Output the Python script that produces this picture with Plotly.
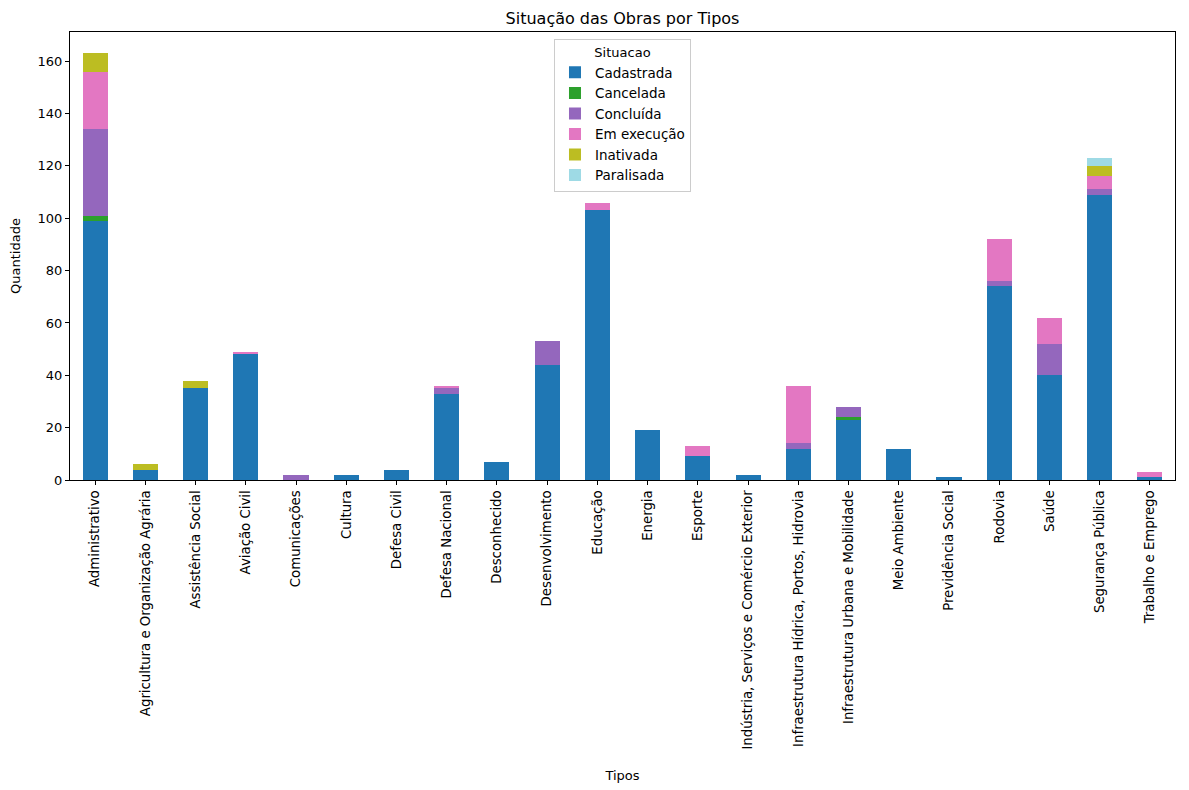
import plotly.graph_objects as go

tipos = ["Administrativo", "Agricultura e Organização Agrária", "Assistência Social", "Aviação Civil",
         "Comunicações", "Cultura", "Defesa Civil", "Defesa Nacional", "Desconhecido", "Desenvolvimento",
         "Educação", "Energia", "Esporte", "Indústria, Serviços e Comércio Exterior",
         "Infraestrutura Hídrica, Portos, Hidrovia", "Infraestrutura Urbana e Mobilidade", "Meio Ambiente",
         "Previdência Social", "Rodovia", "Saúde", "Segurança Pública", "Trabalho e Emprego"]

cadastrada  = [99, 4, 35, 48, 0, 2, 4, 33, 7, 44, 103, 19, 9, 2, 12, 23, 12, 1, 74, 40, 109, 1]
cancelada   = [2, 0, 0, 0, 0, 0, 0, 0, 0, 0, 0, 0, 0, 0, 0, 1, 0, 0, 0, 0, 0, 0]
concluida   = [33, 0, 0, 0, 2, 0, 0, 2, 0, 9, 0, 0, 0, 0, 2, 4, 0, 0, 2, 12, 2, 0]
em_execucao = [22, 0, 0, 1, 0, 0, 0, 1, 0, 0, 3, 0, 4, 0, 22, 0, 0, 0, 16, 10, 5, 2]
inativada   = [7, 2, 3, 0, 0, 0, 0, 0, 0, 0, 0, 0, 0, 0, 0, 0, 0, 0, 0, 0, 4, 0]
paralisada  = [0, 0, 0, 0, 0, 0, 0, 0, 0, 0, 0, 0, 0, 0, 0, 0, 0, 0, 0, 0, 3, 0]

series = [
    ("Cadastrada", cadastrada, "#1f77b4"),
    ("Cancelada", cancelada, "#2ca02c"),
    ("Concluída", concluida, "#9467bd"),
    ("Em execução", em_execucao, "#e377c2"),
    ("Inativada", inativada, "#bcbd22"),
    ("Paralisada", paralisada, "#9edae5"),
]

fig = go.Figure()
for name, vals, color in series:
    fig.add_trace(go.Bar(x=tipos, y=vals, name=name, marker=dict(color=color, line=dict(width=0)),
                         width=0.5))

font = "DejaVu Sans, sans-serif"
W, H = 1173, 782
fig.update_layout(
    barmode="stack",
    width=W, height=H,
    margin=dict(l=59, r=5, t=24, b=310),
    paper_bgcolor="white", plot_bgcolor="white",
    font=dict(family=font, size=13, color="black"),
    title=dict(text="Situação das Obras por Tipos", x=0.5, xref="paper", xanchor="center",
               y=1 - 10 / H, yanchor="middle", font=dict(size=16)),
    legend=dict(title=dict(text="Situacao", side="top center", font=dict(size=13)),
                x=0.438, y=0.984,
                xanchor="left", yanchor="top", bgcolor="white", bordercolor="#cccccc",
                borderwidth=1, font=dict(size=13.5), traceorder="normal", tracegroupgap=0),
    bargap=0,
)
fig.update_xaxes(
    title=dict(text="Tipos", font=dict(size=13), standoff=22), tickangle=-90,
    range=[-0.5, len(tipos) - 0.5],
    showline=True, linecolor="black", linewidth=1, mirror=True,
    ticks="outside", ticklen=4, tickcolor="black", showgrid=False,
    tickfont=dict(size=13.3),
)
fig.update_yaxes(
    title=dict(text="Quantidade", font=dict(size=13)),
    range=[0, 171.15], dtick=20,
    showline=True, linecolor="black", linewidth=1, mirror=True,
    ticks="outside", ticklen=4, tickcolor="black", showgrid=False, zeroline=False,
)

fig.write_html("out.html")
